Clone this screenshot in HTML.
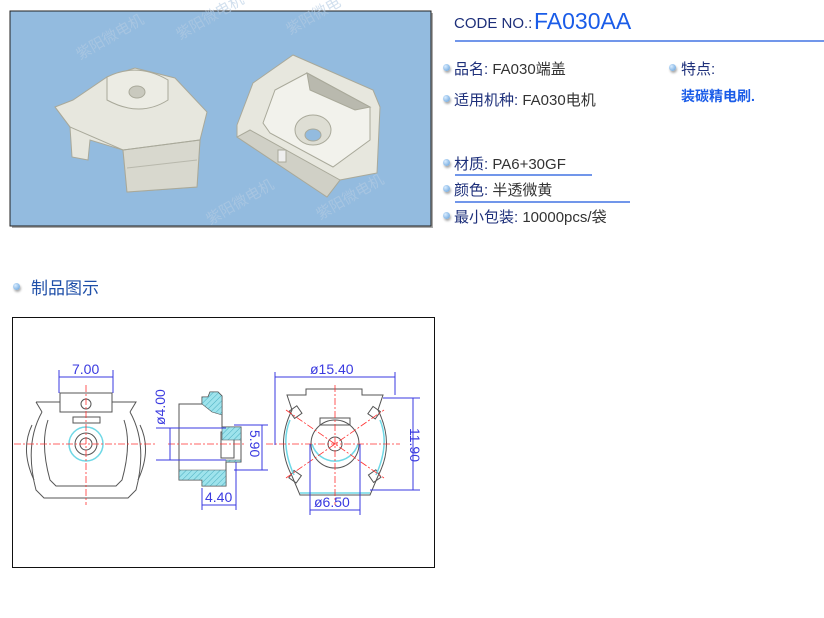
<!DOCTYPE html>
<html><head><meta charset="utf-8"><style>
body{margin:0;width:824px;height:618px;background:#fff;position:relative;overflow:hidden;font-family:"Liberation Sans","Noto Sans CJK SC",sans-serif}
.t{position:absolute;white-space:nowrap;font-size:15px;color:#1d2f7a}
.v{color:#333}
.b{position:absolute;width:7px;height:7px;border-radius:50%;background:radial-gradient(circle at 35% 35%,#d8ecff,#5a9ad8);box-shadow:1px 2px 2px #aaa}
.ln{position:absolute;height:2px;background:#7196ea}
</style></head><body>
<svg style="position:absolute;left:0;top:0" width="824" height="618">
<defs>
<pattern id="h" width="4" height="4" patternUnits="userSpaceOnUse" patternTransform="rotate(45)"><rect width="4" height="4" fill="#9ee3ec"/><line x1="0" y1="0" x2="0" y2="4" stroke="#4aaec0" stroke-width="1"/></pattern>
</defs>
<!-- photo -->
<rect x="12" y="13" width="421" height="215" fill="#555" opacity=".5"/>
<rect x="10" y="11" width="421" height="215" fill="#93bbdf" stroke="#222" stroke-width="1"/>
<g fill="#e7e7de" stroke="#a9a99a" stroke-width="1">
<path d="M55 107 L73 100 L107 77 L135 68 L175 78 L207 112 L200 140 L197 187 L127 192 L123 150 L90 140 L88 160 L72 157 L70 127 Z"/>
<path d="M123 150 L200 140 L197 187 L127 192 Z" fill="#d8d8ce"/>
<path d="M197 160 L127 168" stroke="#b8b8ac"/>
<path d="M107 100 L107 77 Q137 62 168 80 L168 100 Q140 118 107 100Z" fill="#ecece4"/>
<ellipse cx="137" cy="92" rx="8" ry="6" fill="#c9c9be"/>
<path d="M55 107 L70 127 L123 150 L200 140" fill="none"/>
<path d="M237 125 L253 83 L293 55 L373 90 L380 107 L377 173 L340 180 L327 197 L237 137 Z"/>
<path d="M263 123 L275 90 L307 73 L370 107 L370 140 L333 167 L270 133 Z" fill="#f2f2ec"/>
<path d="M307 73 L370 107 L355 110 L310 90 Z" fill="#b9b9ae"/>
<path d="M237 137 L327 197 L340 180 L250 130Z" fill="#d0d0c6"/>
<ellipse cx="313" cy="130" rx="18" ry="15" fill="#deded4"/>
<ellipse cx="313" cy="135" rx="8" ry="6" fill="#93bbdf"/>
<rect x="278" y="150" width="8" height="12" fill="#eee"/>
</g>
<g fill="#b4cbe3" font-size="15" opacity=".6"><text x="80" y="60" transform="rotate(-30 80 60)">紫阳微电机</text><text x="180" y="40" transform="rotate(-30 180 40)">紫阳微电机</text><text x="290" y="35" transform="rotate(-30 290 35)">紫阳微电</text><text x="210" y="225" transform="rotate(-30 210 225)">紫阳微电机</text><text x="320" y="220" transform="rotate(-30 320 220)">紫阳微电机</text></g>
<!-- drawing box -->
<rect x="12.5" y="317.5" width="422" height="250" fill="#fff" stroke="#111" stroke-width="1"/>
<g fill="none" stroke="#555" stroke-width="1">
<rect x="60" y="393" width="52" height="19"/>
<path d="M36 402 L60 402 M112 402 L136 402 L130 412"/>
<path d="M36 402 L42 412"/>
<path d="M42 412 Q24 444 36 490 L44 498 L128 498 L136 490 Q148 444 130 412"/>
<path d="M32 425 Q20 450 34 480 M140 425 Q152 450 138 480"/>
<path d="M48 420 Q40 444 50 480 L56 486 L116 486 L122 480 Q132 444 124 420"/>
<rect x="73" y="417" width="27" height="6"/>
<circle cx="86" cy="444" r="11"/><circle cx="86" cy="444" r="6"/><circle cx="86" cy="404" r="5"/>
<path d="M179 404 L202 404 L202 397 L208 397 L210 392 L218 392 L222 396 L222 427 L241 427 L241 462 L226 462 L226 486 L202 486 L202 480 L179 480 Z"/>
<line x1="221" y1="432" x2="221" y2="458"/><rect x="221" y="432" width="13" height="26"/>
<path d="M287 395 L306 395 L306 389 L362 389 L362 395 L383 395 L378 410 Q395 444 378 476 L370 495 L300 495 L292 476 Q275 444 292 410 Z"/>
<rect x="320" y="418" width="30" height="7"/>
<circle cx="335" cy="444" r="24"/><circle cx="335" cy="444" r="7"/>
<rect x="291" y="408" width="9" height="9" transform="rotate(-35 295 412)"/><rect x="370" y="408" width="9" height="9" transform="rotate(35 374 412)"/>
<rect x="291" y="472" width="9" height="9" transform="rotate(35 295 476)"/><rect x="370" y="472" width="9" height="9" transform="rotate(-35 374 476)"/>
</g>
<path d="M202 397 L208 397 L210 392 L218 392 L222 396 L222 415 L212 412 L202 404Z M222 427 L241 427 L241 440 L222 440Z M226 460 L241 460 L241 462 L226 462 L226 486 L202 486 L202 480 L179 480 L179 470 L226 470Z" fill="url(#h)" stroke="#555" stroke-width=".6"/>
<g fill="none" stroke="#6fd8e6" stroke-width="1.5">
<circle cx="86" cy="444" r="17"/>
<path d="M312 444 A24 24 0 0 0 358 444"/>
<path d="M290 420 Q280 444 294 475 M380 420 Q390 444 376 475 M300 493 L370 493"/>
</g>
<g stroke="#ff3030" stroke-width=".8" stroke-dasharray="7 2 2 2" fill="none">
<line x1="14" y1="444" x2="157" y2="444"/><line x1="86" y1="385" x2="86" y2="505"/>
<line x1="168" y1="444" x2="246" y2="444"/>
<line x1="266" y1="444" x2="400" y2="444"/><line x1="335" y1="385" x2="335" y2="505"/>
<line x1="286" y1="410" x2="384" y2="478"/><line x1="286" y1="478" x2="384" y2="410"/>
</g>
<g stroke="#3a3ae0" stroke-width="1" fill="#3a3ae0">
<line x1="59" y1="370" x2="59" y2="393"/><line x1="113" y1="370" x2="113" y2="393"/><line x1="59" y1="377" x2="113" y2="377"/>
<line x1="156" y1="428" x2="226" y2="428"/><line x1="156" y1="460" x2="226" y2="460"/><line x1="170" y1="428" x2="170" y2="460"/>
<line x1="234" y1="425" x2="268" y2="425"/><line x1="234" y1="470" x2="268" y2="470"/><line x1="262" y1="425" x2="262" y2="470"/>
<line x1="202" y1="488" x2="202" y2="510"/><line x1="236" y1="462" x2="236" y2="510"/><line x1="202" y1="505" x2="236" y2="505"/>
<line x1="275" y1="372" x2="275" y2="445"/><line x1="395" y1="372" x2="395" y2="395"/><line x1="275" y1="377" x2="395" y2="377"/>
<line x1="383" y1="398" x2="420" y2="398"/><line x1="370" y1="490" x2="420" y2="490"/><line x1="413" y1="398" x2="413" y2="490"/>
<line x1="310" y1="444" x2="310" y2="515"/><line x1="360" y1="444" x2="360" y2="515"/><line x1="310" y1="510" x2="360" y2="510"/>
</g>
<g fill="#3a3ae0" font-size="14" font-family="Liberation Sans,sans-serif">
<text x="72" y="374">7.00</text>
<text x="310" y="374">ø15.40</text>
<text x="314" y="507">ø6.50</text>
<text x="205" y="502">4.40</text>
<text transform="translate(165 425) rotate(-90)">ø4.00</text>
<text transform="translate(250 430) rotate(90)">5.90</text>
<text transform="translate(410 428) rotate(90)">11.90</text>
</g>
</svg>
<div class="t" style="left:454px;top:15px;font-size:15px">CODE NO.:</div>
<div class="t" style="left:534px;top:8px;font-size:23px;color:#1a5ce8">FA030AA</div>
<div class="ln" style="left:455px;top:40px;width:369px"></div>
<div class="b" style="left:443px;top:64px"></div><div class="t" style="left:454px;top:58px">品名: <span class="v">FA030端盖</span></div>
<div class="b" style="left:443px;top:95px"></div><div class="t" style="left:454px;top:89px">适用机种: <span class="v">FA030电机</span></div>
<div class="b" style="left:669px;top:64px"></div><div class="t" style="left:681px;top:58px">特点:</div>
<div class="t" style="left:681px;top:86px;font-weight:bold;color:#1a5ce8;font-size:14px">装碳精电刷.</div>
<div class="b" style="left:443px;top:159px"></div><div class="t" style="left:454px;top:153px">材质: <span class="v">PA6+30GF</span></div>
<div class="ln" style="left:455px;top:174px;width:137px"></div>
<div class="b" style="left:443px;top:185px"></div><div class="t" style="left:454px;top:179px">颜色: <span class="v">半透微黄</span></div>
<div class="ln" style="left:455px;top:201px;width:175px"></div>
<div class="b" style="left:443px;top:212px"></div><div class="t" style="left:454px;top:206px">最小包装: <span class="v">10000pcs/袋</span></div>
<div class="b" style="left:13px;top:283px"></div><div class="t" style="left:31px;top:274px;font-size:17px;color:#1f4fa8">制品图示</div>
</body></html>
